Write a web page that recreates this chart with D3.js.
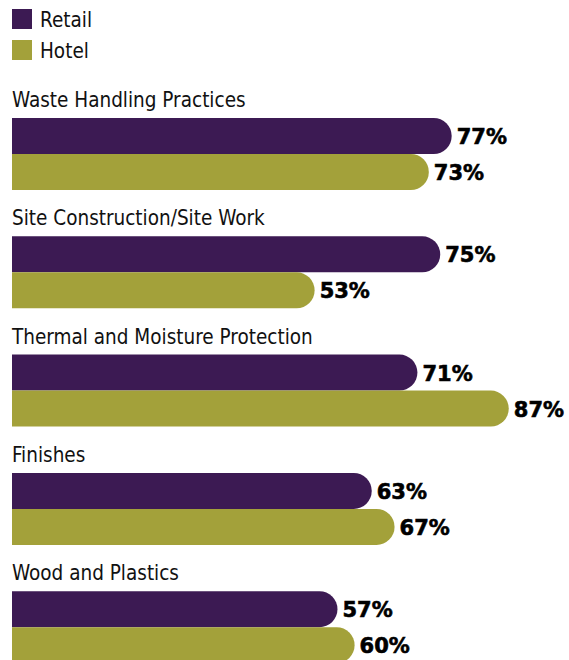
<!DOCTYPE html>
<html>
<head>
<meta charset="utf-8">
<script src="https://cdn.jsdelivr.net/npm/d3@7"></script>
<style>
  body { margin: 0; background: #fff; }
  .cat { font-family: "Liberation Sans Narrow", "DejaVu Sans Condensed", sans-serif; font-size: 20.5px; fill: #111; }
  .val { font-family: "DejaVu Sans", sans-serif; font-weight: bold; font-size: 21px; fill: #000; stroke: #000; stroke-width: 0.6px; }
</style>
</head>
<body>
<div class="chart"></div>
<script>
// chart values
const categories = ["Waste Handling Practices", "Site Construction/Site Work", "Thermal and Moisture Protection", "Finishes", "Wood and Plastics"];
const seriesNames = ["Retail", "Hotel"];
const retail = [77, 75, 71, 63, 57];
const hotel = [73, 53, 87, 67, 60];

const width = 569, height = 660;
const colors = {Retail: "#3c1a53", Hotel: "#a3a13a"};

const svg = d3.select('.chart')
              .append('svg')
              .attr('width', width)
              .attr('height', height);

// legend
const legend = svg.append("g").attr("transform", "translate(12,9)");
seriesNames.forEach(function(s, i) {
  legend.append("rect")
    .attr("x", 0).attr("y", i * 31)
    .attr("width", 20).attr("height", 20)
    .attr("fill", colors[s]);
  legend.append("text")
    .attr("class", "cat")
    .attr("x", 28).attr("y", i * 31 + 18)
    .text(s);
});

// scales
const x = d3.scaleLinear().domain([0, 100]).range([12, 583]);
const y = d3.scaleBand().domain(categories).range([88, 88 + 5 * 118.3]);
const ySeries = d3.scaleBand().domain(seriesNames).range([30, 102]);

const rows = categories.map(function(c, i) {
  return {cat: c, vals: [{s: "Retail", v: retail[i]}, {s: "Hotel", v: hotel[i]}]};
});

// rounded right end bar
function barPath(x0, x1, y0, h) {
  const r = h / 2;
  return "M" + x0 + "," + y0 +
         "H" + (x1 - r) +
         "A" + r + "," + r + " 0 0 1 " + (x1 - r) + "," + (y0 + h) +
         "H" + x0 + "Z";
}

const group = svg.append("g")
  .selectAll("g")
  .data(rows)
  .enter()
  .append("g")
  .attr("transform", function(d) { return "translate(0," + y(d.cat) + ")"; });

group.append("text")
  .attr("class", "cat")
  .attr("x", 12)
  .attr("y", 19)
  .text(function(d) { return d.cat; });

const bars = group.selectAll(".bar")
  .data(function(d) { return d.vals; })
  .enter();

bars.append("path")
  .attr("d", function(d) { return barPath(x(0), x(d.v), ySeries(d.s), ySeries.bandwidth()); })
  .attr("fill", function(d) { return colors[d.s]; });

bars.append("text")
  .attr("class", "val")
  .attr("x", function(d) { return x(d.v) + 5; })
  .attr("y", function(d) { return ySeries(d.s) + ySeries.bandwidth() / 2 + 8; })
  .text(function(d) { return d.v + "%"; });
</script>
</body>
</html>
